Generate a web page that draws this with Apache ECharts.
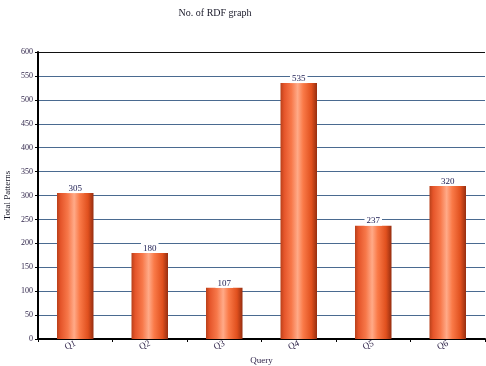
<!DOCTYPE html>
<html>
<head>
<meta charset="utf-8">
<script src="https://cdn.jsdelivr.net/npm/echarts@6/dist/echarts.min.js"></script>
<style>
html,body{margin:0;padding:0;background:#fff;}
#chart{width:486px;height:366px;}
</style>
</head>
<body>
<div id="chart"></div>
<script>
// Query categories and the number of patterns found for each
const queries = ['Q1', 'Q2', 'Q3', 'Q4', 'Q5', 'Q6'];
const totalPatterns = [305, 180, 107, 535, 237, 320];
const yTicks = { min: 0, max: 600, interval: 50 };

const serif = '"Liberation Serif", "DejaVu Serif", serif';
const textColor = '#2a1f45';
const gridBlue = '#4a6a90';

const barFill = new echarts.graphic.LinearGradient(0, 0, 1, 0, [
  { offset: 0, color: '#b8401a' },
  { offset: 0.1, color: '#e5552a' },
  { offset: 0.3, color: '#f7784a' },
  { offset: 0.47, color: '#ffaa88' },
  { offset: 0.62, color: '#fa7a48' },
  { offset: 0.85, color: '#e0501e' },
  { offset: 1, color: '#962e10' }
]);

const chart = echarts.init(document.getElementById('chart'), null, { renderer: 'canvas' });
chart.setOption({
  animation: false,
  backgroundColor: '#ffffff',
  title: {
    text: 'No. of RDF graph',
    left: 210,
    top: 3,
    textAlign: 'center',
    textStyle: { fontFamily: serif, fontSize: 10, fontWeight: 'normal', color: '#1a1a2a' }
  },
  grid: { left: 38, right: 1, top: 52, bottom: 27, containLabel: false, outerBoundsMode: 'none' },
  xAxis: {
    type: 'category',
    data: queries,
    name: 'Query',
    nameLocation: 'middle',
    nameGap: 17,
    nameMoveOverlap: false,
    nameTextStyle: { fontFamily: serif, fontSize: 9, color: textColor },
    axisLine: { lineStyle: { color: '#000', width: 2 } },
    axisTick: { show: true, alignWithLabel: false, length: 3, lineStyle: { color: '#000', width: 1 } },
    axisLabel: { rotate: 25, fontFamily: serif, fontSize: 9, color: textColor, margin: 4 }
  },
  yAxis: {
    type: 'value',
    min: yTicks.min,
    max: yTicks.max,
    interval: yTicks.interval,
    name: 'Total Patterns',
    nameLocation: 'middle',
    nameGap: 26,
    nameMoveOverlap: false,
    nameTextStyle: { fontFamily: serif, fontSize: 9, color: '#1a1a2a' },
    axisLine: { show: true, lineStyle: { color: '#000', width: 2 } },
    axisTick: { show: true, length: 3, lineStyle: { color: '#000' } },
    axisLabel: { fontFamily: serif, fontSize: 8, color: textColor, margin: 5 },
    splitLine: {
      show: true,
      lineStyle: {
        color: [gridBlue, gridBlue, gridBlue, gridBlue, gridBlue, gridBlue,
                gridBlue, gridBlue, gridBlue, gridBlue, gridBlue, gridBlue, '#111111'],
        width: 1
      }
    }
  },
  series: [{
    type: 'bar',
    data: totalPatterns,
    barWidth: '49%',
    itemStyle: { color: barFill },
    label: {
      show: true,
      position: 'top',
      distance: 0,
      fontFamily: serif,
      fontSize: 9,
      color: '#1a1a50',
      backgroundColor: '#ffffff',
      padding: [1, 2, 0, 2]
    }
  }]
});
</script>
</body>
</html>
